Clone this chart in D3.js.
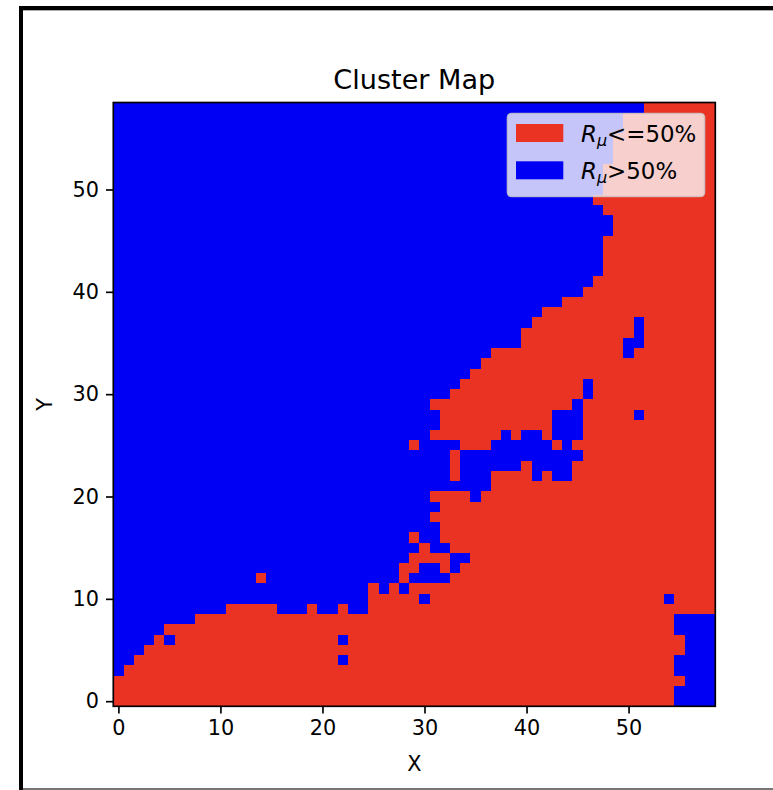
<!DOCTYPE html>
<html>
<head>
<meta charset="utf-8">
<script src="https://cdn.jsdelivr.net/npm/d3@7"></script>
<style>
  html, body { margin: 0; padding: 0; background: #fff; }
  svg { display: block; }
  text { font-family: "DejaVu Sans", sans-serif; fill: #000; }
</style>
</head>
<body>
<div id="chart"></div>
<script>
var xTicks = [0, 10, 20, 30, 40, 50];
var yTicks = [0, 10, 20, 30, 40, 50];
var gridSize = 59;
var clusterLabels = ["<=50%", ">50%"];
var clusterColors = ["#eb3324", "#0000f5"];

// columns in the ">50%" cluster, as [from, to] runs for each row, Y = 0 first
var blueRuns = [
  [[55,58]],
  [[55,58]],
  [[56,58]],
  [[0,0],[55,58]],
  [[0,1],[22,22],[55,58]],
  [[0,2],[56,58]],
  [[0,3],[5,5],[22,22],[56,58]],
  [[0,4],[55,58]],
  [[0,7],[55,58]],
  [[0,10],[16,18],[20,21],[23,24]],
  [[0,24],[30,30],[54,54]],
  [[0,24],[26,26],[28,28]],
  [[0,13],[15,27],[29,32]],
  [[0,27],[30,31],[33,33]],
  [[0,28],[33,34]],
  [[0,29],[31,32]],
  [[0,28],[30,31]],
  [[0,31]],
  [[0,30]],
  [[0,31]],
  [[0,30],[35,35]],
  [[0,36]],
  [[0,32],[34,36],[41,41],[43,44]],
  [[0,32],[34,39],[41,44]],
  [[0,32],[34,45]],
  [[0,28],[30,33],[37,42],[44,44]],
  [[0,30],[38,38],[40,41],[43,45]],
  [[0,31],[43,45]],
  [[0,31],[43,45],[51,51]],
  [[0,30],[45,45]],
  [[0,32],[46,46]],
  [[0,33],[46,46]],
  [[0,34]],
  [[0,35]],
  [[0,36],[50,50]],
  [[0,39],[50,51]],
  [[0,39],[51,51]],
  [[0,40],[51,51]],
  [[0,41]],
  [[0,43]],
  [[0,45]],
  [[0,46]],
  [[0,47]],
  [[0,47]],
  [[0,47]],
  [[0,47]],
  [[0,48]],
  [[0,48]],
  [[0,47]],
  [[0,46]],
  [[0,47]],
  [[0,47]],
  [[0,47]],
  [[0,48]],
  [[0,48]],
  [[0,48]],
  [[0,49]],
  [[0,49]],
  [[0,51]]
];

var width = 773, height = 790;
var margin = {top: 102.5, right: 57.7, bottom: 83.7, left: 113.3};
var innerW = width - margin.left - margin.right,
    innerH = height - margin.top - margin.bottom;

var svg = d3.select("#chart").append("svg")
    .attr("width", width)
    .attr("height", height);

// outer black frame, runs off the right edge of the picture
svg.append("rect").attr("x", 19).attr("y", 6).attr("width", 4).attr("height", 784).attr("fill", "#000");
svg.append("rect").attr("x", 19).attr("y", 6).attr("width", 754).attr("height", 4).attr("fill", "#000");
svg.append("rect").attr("x", 23).attr("y", 10).attr("width", 750).attr("height", 1).attr("fill", "#aaa");
svg.append("rect").attr("x", 23).attr("y", 788).attr("width", 750).attr("height", 2).attr("fill", "#777");

var g = svg.append("g")
    .attr("transform", "translate(" + margin.left + "," + margin.top + ")");

var x = d3.scaleLinear().domain([-0.5, gridSize - 0.5]).range([0, innerW]);
var y = d3.scaleLinear().domain([-0.5, gridSize - 0.5]).range([innerH, 0]);

// expand the runs to one record per cell
var cells = [];
d3.range(gridSize).forEach(function(row) {
    d3.range(gridSize).forEach(function(col) {
        var isBlue = blueRuns[row].some(function(r) { return col >= r[0] && col <= r[1]; });
        cells.push({col: col, row: row, cluster: isBlue ? 1 : 0});
    });
});

g.append("g").selectAll("rect")
    .data(cells)
    .enter().append("rect")
    .attr("x", function(d) { return x(d.col - 0.5); })
    .attr("y", function(d) { return y(d.row + 0.5); })
    .attr("width", function(d) { return x(d.col + 0.5) - x(d.col - 0.5); })
    .attr("height", function(d) { return y(d.row - 0.5) - y(d.row + 0.5); })
    .attr("fill", function(d) { return clusterColors[d.cluster]; })
    .attr("shape-rendering", "crispEdges");

// axes
var xAxis = g.append("g")
    .attr("transform", "translate(0," + innerH + ")")
    .call(d3.axisBottom(x).tickValues(xTicks).tickSize(7.3).tickPadding(7));
var yAxis = g.append("g")
    .call(d3.axisLeft(y).tickValues(yTicks).tickSize(7.3).tickPadding(7));

[xAxis, yAxis].forEach(function(a) {
    a.select(".domain").remove();
    a.selectAll("line").attr("stroke", "#000").attr("stroke-width", 1.67);
    a.selectAll("text").attr("font-size", 20.8).attr("font-family", "DejaVu Sans").attr("fill", "#000");
});

// spines
g.append("rect")
    .attr("width", innerW)
    .attr("height", innerH)
    .attr("fill", "none")
    .attr("stroke", "#000")
    .attr("stroke-width", 1.67);

// title and axis labels
svg.append("text")
    .text("Cluster Map")
    .attr("x", margin.left + innerW / 2)
    .attr("y", 89)
    .attr("text-anchor", "middle")
    .attr("font-size", 27.1);
svg.append("text")
    .text("X")
    .attr("x", margin.left + innerW / 2)
    .attr("y", 771)
    .attr("text-anchor", "middle")
    .attr("font-size", 20.8);
svg.append("text")
    .text("Y")
    .attr("transform", "translate(52," + (margin.top + innerH / 2) + ") rotate(-90)")
    .attr("text-anchor", "middle")
    .attr("font-size", 20.8);

// legend
var legend = svg.append("g").attr("transform", "translate(507.5,113.5)");
legend.append("rect")
    .attr("width", 197)
    .attr("height", 83)
    .attr("rx", 4)
    .attr("fill", "#fafafa")
    .attr("fill-opacity", 0.79)
    .attr("stroke", "#ccc")
    .attr("stroke-opacity", 0.8)
    .attr("stroke-width", 1.67);

var legendRows = legend.selectAll("g.item")
    .data(clusterLabels)
    .enter().append("g")
    .attr("class", "item")
    .attr("transform", function(d, i) { return "translate(0," + (i * 37.3) + ")"; });
legendRows.append("rect")
    .attr("x", 8.5)
    .attr("y", 10.5)
    .attr("width", 47.3)
    .attr("height", 18)
    .attr("fill", function(d, i) { return clusterColors[i]; });
var legendText = legendRows.append("text")
    .attr("x", 73.5)
    .attr("y", 28.5)
    .attr("font-size", 22.9);
legendText.append("tspan").text("R").attr("font-style", "italic");
legendText.append("tspan").text("\u03bc").attr("font-style", "italic").attr("font-size", 16).attr("dy", 3.5);
legendText.append("tspan").text(function(d) { return d; }).attr("dy", -3.5);
</script>
</body>
</html>
